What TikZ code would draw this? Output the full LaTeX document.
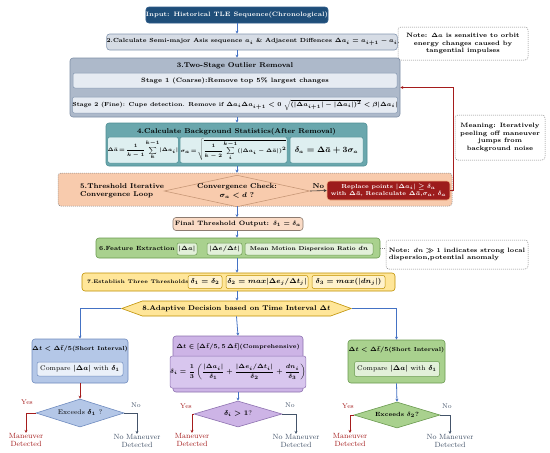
\documentclass[tikz,border=0pt]{standalone}
\usepackage{amsmath}
\usetikzlibrary{shapes.geometric,shapes.symbols,arrows.meta,calc}
\definecolor{navy}{HTML}{1F4E79}
\definecolor{navyb}{HTML}{2E5C8A}
\definecolor{stwof}{HTML}{D6DCE5}
\definecolor{stwod}{HTML}{8497B0}
\definecolor{sthreef}{HTML}{ADB9CA}
\definecolor{sthreed}{HTML}{7F8FA6}
\definecolor{sthrees}{HTML}{E6EBF2}
\definecolor{sfourf}{HTML}{6AA7AD}
\definecolor{sfourd}{HTML}{4F8F95}
\definecolor{sfours}{HTML}{DEEFF0}
\definecolor{loopf}{HTML}{F8CBAD}
\definecolor{loopd}{HTML}{C89878}
\definecolor{repf}{HTML}{9C1C1C}
\definecolor{repd}{HTML}{F4B183}
\definecolor{finf}{HTML}{FADBC6}
\definecolor{find}{HTML}{8C7B70}
\definecolor{gref}{HTML}{A9D18E}
\definecolor{gred}{HTML}{6A9A4F}
\definecolor{gres}{HTML}{E2F0D9}
\definecolor{yelf}{HTML}{FFE699}
\definecolor{yeld}{HTML}{BF9000}
\definecolor{yels}{HTML}{FFF2CC}
\definecolor{bluf}{HTML}{B4C7E7}
\definecolor{blud}{HTML}{6F8BBF}
\definecolor{blus}{HTML}{EAF0F9}
\definecolor{purf}{HTML}{CDB4E6}
\definecolor{purd}{HTML}{8E72B0}
\definecolor{purs}{HTML}{D8C6EE}
\definecolor{arrblue}{HTML}{4472C4}
\definecolor{darkred}{HTML}{A51C1C}
\definecolor{slate}{HTML}{44546A}
\begin{document}
\begin{tikzpicture}[x=1pt,y=-1pt,
  base/.style={font=\fontsize{6.3}{7.6}\selectfont\bfseries\boldmath, inner sep=0pt, align=center, text=black},
  ttl/.style={base, font=\fontsize{7}{8.4}\selectfont\bfseries\boldmath},
  rbox/.style={base, draw, rounded corners=3pt, line width=0.6pt},
  sbox/.style={base, draw, rounded corners=2pt, line width=0.5pt},
  note/.style={base, draw=gray, fill=white, dash pattern=on 1pt off 1pt, rounded corners=3pt, line width=0.5pt},
  dia/.style={base, diamond, draw, line width=0.6pt, inner sep=0pt},
  arr/.style={-{Stealth[length=3pt,width=3pt]}, draw=arrblue, line width=0.8pt},
  redarr/.style={-{Stealth[length=3pt,width=3pt]}, draw=darkred, line width=0.8pt},
  grayarr/.style={-{Stealth[length=3pt,width=3pt]}, draw=slate, line width=0.8pt},
  blkarr/.style={-{Stealth[length=3pt,width=3pt]}, draw=black!80, line width=0.6pt},
  dashc/.style={draw=gray, dash pattern=on 1pt off 1pt, line width=0.5pt},
  outred/.style={font=\fontsize{7.5}{8.5}\selectfont, text=darkred, align=center, inner sep=0pt},
  outgray/.style={font=\fontsize{7.5}{8.5}\selectfont, text=slate, align=center, inner sep=0pt},
  yeslab/.style={font=\fontsize{6.8}{8}\selectfont, text=darkred, inner sep=0pt},
  nolab/.style={font=\fontsize{6.8}{8}\selectfont, text=slate, inner sep=0pt}
]
\useasboundingbox[fill=white] (0,0) rectangle (550,453);

% 1 input
\node[rbox, fill=navy, draw=navyb, text=white, minimum width=180, minimum height=16] (in) at (237,15) {Input: Historical TLE Sequence(Chronological)};
% 2
\node[rbox, fill=stwof, draw=stwod, minimum width=274, minimum height=16, font=\fontsize{5.9}{7}\selectfont\bfseries\boldmath] (s2) at (252,42) {2.Calculate Semi-major Asis sequence $a_i$ \& Adjacent Diffences $\Delta a_i=a_{i+1}-a_i$};
\node[note, minimum width=130, minimum height=33] (n1) at (463,43.5) {Note: $\Delta a$ is sensitive to orbit\\energy changes caused by\\tangential impulses};
\draw[dashc] (s2.east) -- (s2.east -| n1.west);
\draw[arr] (in.south) -- (in.south |- s2.north);

% 3
\node[rbox, fill=sthreef, draw=sthreed, minimum width=330, minimum height=59] (s3) at (235,87.5) {};
\node[ttl] (s3t) at (235,65.5) {3.Two-Stage Outlier Removal};
\node[sbox, fill=sthrees, draw=stwod, minimum width=324, minimum height=15] (st1) at (235,80.5) {Stage 1 (Coarse):Remove top 5\% largest changes};
\node[sbox, fill=sthrees, draw=stwod, minimum width=324, minimum height=16, font=\fontsize{5.8}{7}\selectfont\bfseries\boldmath] (st2) at (235,105) {Stage 2 (Fine): Cupe detection. Remove if $\Delta a_i\Delta a_{i+1}<0$ $\sqrt{(|\Delta a_{i+1}|-|\Delta a_i|)^2}<\beta|\Delta a_i|$};
\draw[arr] (s2.south -| in) -- (s3.north -| in);

% 4
\node[rbox, fill=sfourf, draw=sfourd, minimum width=261, minimum height=43] (s4) at (236.5,144.5) {};
\node[ttl] (s4t) at (236.5,131.5) {4.Calculate Background Statistics(After Removal)};
\node[sbox, fill=sfours, draw=sfourd, minimum width=66, minimum height=26, font=\fontsize{5}{6}\selectfont\bfseries\boldmath] (f1) at (143,150) {$\displaystyle\Delta\bar{a}\!=\!\frac{1}{k-1}\!\sum_{k}^{k-1}\!|\Delta a_i|$};
\node[sbox, fill=sfours, draw=sfourd, minimum width=107, minimum height=26, font=\fontsize{5}{6}\selectfont\bfseries\boldmath] (f2) at (233.5,150) {$\displaystyle\sigma_a\!=\!\sqrt{\frac{1}{k-2}\!\sum_{i}^{k-1}(|\Delta a_i-\Delta\bar{a}|)^2}$};
\node[sbox, fill=sfours, draw=sfourd, minimum width=73, minimum height=26, font=\fontsize{7.8}{9}\selectfont\bfseries\boldmath] (f3) at (326.5,150) {$\delta_a=\Delta\bar{a}+3\sigma_a$};
\draw[arr] (s3.south -| in) -- (s4.north -| in);

% 5 loop
\node[base, draw=gray, fill=loopf, dash pattern=on 1pt off 1pt, rounded corners=3pt, line width=0.5pt, minimum width=394, minimum height=33] (loop) at (255,189.5) {};
\node[ttl, align=left, anchor=west] (lt) at (80,191) {5.Threshold Iterative\\Convergence Loop};
\node[dia, fill=loopf, draw=loopd, aspect=4.6, minimum width=138, minimum height=30, font=\fontsize{7}{8.4}\selectfont\bfseries\boldmath] (dc) at (237,191) {Convergence Check:\\$\sigma_a<d$ ?};
\node[rbox, fill=repf, draw=repd, text=white, minimum width=123, minimum height=19, font=\fontsize{5.8}{7.2}\selectfont\bfseries\boldmath] (rep) at (388.5,190.5) {Replace points $|\Delta a_i|\geq\delta_a$\\with $\Delta\bar{a}$, Recalculate $\Delta\bar{a}$,$\sigma_a$, $\delta_a$};
\draw[blkarr] (dc.east) -- (rep.west) node[ttl, midway, above=2pt] (no0) {No};
\draw[redarr] (rep.east) -- ++(3,0) |- (s3.east);
\node[note, minimum width=90, minimum height=45] (n3) at (500,137.5) {Meaning: Iteratively\\peeling off maneuver\\jumps from\\background noise};
\draw[arr] (s4.south -| in) -- (loop.north -| in);

% final
\node[rbox, fill=finf, draw=find, minimum width=130, minimum height=13] (fin) at (238,224) {Final Threshold Output: $\delta_1=\delta_a$};
\draw[arr] (loop.south -| in) -- (fin.north -| in);

% 6
\node[rbox, fill=gref, draw=gred, minimum width=284, minimum height=20] (s6) at (238,248) {};
\node[ttl, anchor=west, font=\fontsize{6}{7.2}\selectfont\bfseries] (s6t) at (99,248.5) {6.Feature Extraction};
\node[sbox, fill=gres, draw=gred, minimum width=20, minimum height=12] (a1) at (187,249) {$|\Delta a|$};
\node[sbox, fill=gres, draw=gred, minimum width=35, minimum height=12] (a2) at (224.5,249) {$|\Delta e/\Delta t|$};
\node[sbox, fill=gres, draw=gred, minimum width=128, minimum height=12, font=\fontsize{5.6}{6.5}\selectfont\bfseries\boldmath] (a3) at (309,249) {Mean Motion Dispersion Ratio $dn$};
\node[note, align=left, minimum width=142, minimum height=29] (n2) at (457,254.5) {Note: $dn\gg 1$ indicates strong local\\dispersion,potential anomaly};
\draw[dashc] (s6.east) -- (s6.east -| n2.west);
\draw[arr] (fin.south -| in) -- (s6.north -| in);

% 7
\node[rbox, fill=yelf, draw=yeld, minimum width=313, minimum height=18] (s7) at (238.5,282) {};
\node[base, anchor=west, font=\fontsize{5.2}{6.2}\selectfont\bfseries] (s7t) at (87,282) {7.Establish Three Thresholds};
\node[sbox, fill=yels, draw=yeld, minimum width=34, minimum height=13, font=\fontsize{6.6}{8}\selectfont\bfseries\boldmath] (b1) at (205,282) {$\delta_1=\delta_2$};
\node[sbox, fill=yels, draw=yeld, minimum width=82, minimum height=13, font=\fontsize{6.6}{8}\selectfont\bfseries\boldmath] (b2) at (267,282) {$\delta_2=max|\Delta e_j/\Delta t_j|$};
\node[sbox, fill=yels, draw=yeld, minimum width=73, minimum height=13, font=\fontsize{6.6}{8}\selectfont\bfseries\boldmath] (b3) at (348.5,282) {$\delta_3=max(|dn_j|)$};
\draw[arr] (s6.south -| in) -- (s7.north -| in);

% 8
\node[ttl, signal, signal to=west and east, signal pointer angle=40, fill=yelf, draw=yeld, line width=0.6pt, minimum width=227, minimum height=15] (hex) at (236.5,308.5) {8.Adaptive Decision based on Time Interval $\Delta t$};
\draw[arr] (s7.south -| in) -- (hex.north -| in);

% branches
\node[rbox, fill=bluf, draw=blud, minimum width=96, minimum height=44] (bb) at (80,361) {};
\node[base, font=\fontsize{5.8}{7}\selectfont\bfseries\boldmath] (bt) at (80,349) {$\Delta t<\Delta\bar{t}/5$(Short Interval)};
\node[sbox, fill=blus, draw=blud, minimum width=86, minimum height=14, font=\fontsize{6.8}{8}\selectfont\boldmath] (bi) at (80,369) {Compare $|\Delta a|$ with $\delta_1$};

\node[rbox, fill=purf, draw=purd, minimum width=130, minimum height=56] (pb) at (238,364) {};
\node[base, font=\fontsize{5.8}{7}\selectfont\bfseries\boldmath] (pt) at (238,347) {$\Delta t\in[\Delta\bar{t}/5, 5\,\Delta\bar{t}]$(Comprehensive)};
\node[sbox, fill=purs, draw=purd, minimum width=124, minimum height=32, font=\fontsize{6.5}{8}\selectfont\bfseries\boldmath] (pi) at (238,372) {$\displaystyle\delta_i=\frac{1}{3}\left(\frac{|\Delta a_i|}{\delta_1}+\frac{|\Delta e_i/\Delta t_i|}{\delta_2}+\frac{dn_i}{\delta_3}\right)$};

\node[rbox, fill=gref, draw=gred, minimum width=97, minimum height=43] (gb) at (396.5,361.5) {};
\node[base, font=\fontsize{5.8}{7}\selectfont\bfseries\boldmath] (gt) at (396.5,350) {$\Delta t<\Delta\bar{t}/5$(Short Interval)};
\node[sbox, fill=gres, draw=gred, minimum width=85, minimum height=15, font=\fontsize{6.8}{8}\selectfont\boldmath] (gi) at (397,369) {Compare $|\Delta a|$ with $\delta_1$};

\draw[arr] (hex.west) -| (bb.north);
\draw[arr] (hex.south) -- (pb.north);
\draw[arr] (hex.east) -| (gb.north);

% diamonds
\node[dia, fill=bluf, draw=blud, aspect=3.1, minimum width=88, minimum height=28, font=\fontsize{6.8}{8}\selectfont\boldmath] (d1) at (80,413) {Exceeds $\delta_1$ ?};
\node[dia, fill=purf, draw=purd, aspect=3.3, minimum width=88, minimum height=26, font=\fontsize{6.8}{8}\selectfont\boldmath] (d2) at (238,414) {$\delta_i>1$?};
\node[dia, fill=gref, draw=gred, aspect=3.3, minimum width=86, minimum height=26, font=\fontsize{6}{7}\selectfont\bfseries\boldmath] (d3) at (397,415) {Exceeds $\delta_2$?};
\draw[redarr] (bb.south) -- (d1.north);
\draw[arr] (pb.south) -- (d2.north);
\draw[arr] (gb.south) -- (d3.north);

% outputs
\node[outred] (m1) at (26,440) {Maneuver\\Detected};
\node[outgray] (nm1) at (137,441) {No Maneuver\\Detected};
\node[outred] (m2) at (192,440) {Maneuver\\Detected};
\node[outgray] (nm2) at (296,441) {No Maneuver\\Detected};
\node[outred] (m3) at (350,440) {Maneuver\\Detected};
\node[outgray] (nm3) at (450,441) {No Maneuver\\Detected};
\draw[redarr] (d1.west) -| (m1.north);
\draw[grayarr] (d1.east) -| (nm1.north);
\draw[redarr] (d2.west) -| (m2.north);
\draw[grayarr] (d2.east) -| (nm2.north);
\draw[redarr] (d3.west) -| (m3.north);
\draw[grayarr] (d3.east) -| (nm3.north);
\node[yeslab] (y1) at (27,402) {Yes};
\node[nolab] (o1) at (136,405) {No};
\node[yeslab] (y2) at (186,406) {Yes};
\node[nolab] (o2) at (290,405) {No};
\node[yeslab] (y3) at (348,406) {Yes};
\node[nolab] (o3) at (447,406) {No};
\end{tikzpicture}
\end{document}
